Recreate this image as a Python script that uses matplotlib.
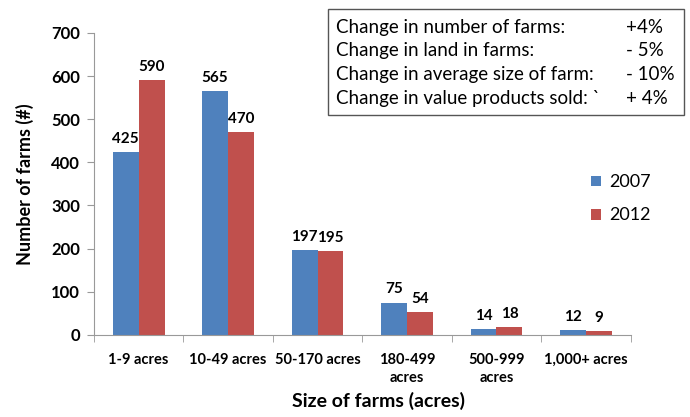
import matplotlib
matplotlib.use("Agg")
import matplotlib.pyplot as plt
import numpy as np

plt.rcParams['font.family'] = ['Lato', 'DejaVu Sans']

categories = ["1-9 acres", "10-49 acres", "50-170 acres", "180-499\nacres", "500-999\nacres", "1,000+ acres"]
vals_2007 = [425, 565, 197, 75, 14, 12]
vals_2012 = [590, 470, 195, 54, 18, 9]
series_names = ["2007", "2012"]
box_labels = ["Change in number of farms:", "Change in land in farms:",
              "Change in average size of farm:", "Change in value products sold: `"]
box_values = ["+4%", "- 5%", "- 10%", "+ 4%"]

blue = "#4F81BD"
red = "#C0504D"

fig = plt.figure(figsize=(6.9, 4.17), dpi=100)
ax = fig.add_axes([0.136, 0.197, 0.778, 0.724])

x = np.arange(len(categories))
w = 0.29
b1 = ax.bar(x - w/2, vals_2007, w, color=blue, label=series_names[0])
b2 = ax.bar(x + w/2, vals_2012, w, color=red, label=series_names[1])

for bars in (b1, b2):
    for r in bars:
        ax.text(r.get_x() + r.get_width()/2, r.get_height() + 14, f"{int(r.get_height())}",
                ha='center', va='bottom', fontsize=11, fontweight='bold')

ax.set_xlim(-0.5, len(categories) - 0.5)
ax.set_ylim(0, 700)
ax.set_yticks(range(0, 701, 100))
ax.set_yticklabels([str(v) for v in range(0, 701, 100)], fontweight='bold', fontsize=12)
ax.set_xticks(x)
ax.set_xticklabels(categories, fontsize=10.5, fontweight='bold', linespacing=1.35)
ax.set_xticks(np.arange(-0.5, len(categories), 1), minor=True)
ax.tick_params(axis='x', which='major', length=0, pad=13)
ax.tick_params(axis='x', which='minor', length=5, color='#999999')
ax.tick_params(axis='y', length=5, color='#999999', pad=5)

for s in ['top', 'right']:
    ax.spines[s].set_visible(False)
for s in ['left', 'bottom']:
    ax.spines[s].set_color('#999999')

ax.set_ylabel("Number of farms (#)", fontsize=13, fontweight='bold', labelpad=12)
ax.set_xlabel("Size of farms (acres)", fontsize=14, fontweight='bold')
ax.xaxis.set_label_coords(0.53, -0.19)

leg = fig.legend(handles=[b1, b2], labels=series_names, loc='center left',
                 bbox_to_anchor=(0.8565, 0.523), frameon=False, fontsize=13,
                 borderpad=0, borderaxespad=0,
                 handlelength=0.55, handleheight=0.55, labelspacing=0.95, handletextpad=0.45)

# Text box
box = plt.Rectangle((0.475, 0.724), 0.517, 0.254, transform=fig.transFigure,
                    fill=True, facecolor='white', edgecolor='#555555', linewidth=1.0)
fig.add_artist(box)
for i, (lab, val) in enumerate(zip(box_labels, box_values)):
    yy = 0.935 - i * 0.0567
    fig.text(0.487, yy, lab, fontsize=13.5, va='center', ha='left')
    fig.text(0.907, yy, val, fontsize=13.5, va='center', ha='left')

fig.savefig("out.png", dpi=100)
